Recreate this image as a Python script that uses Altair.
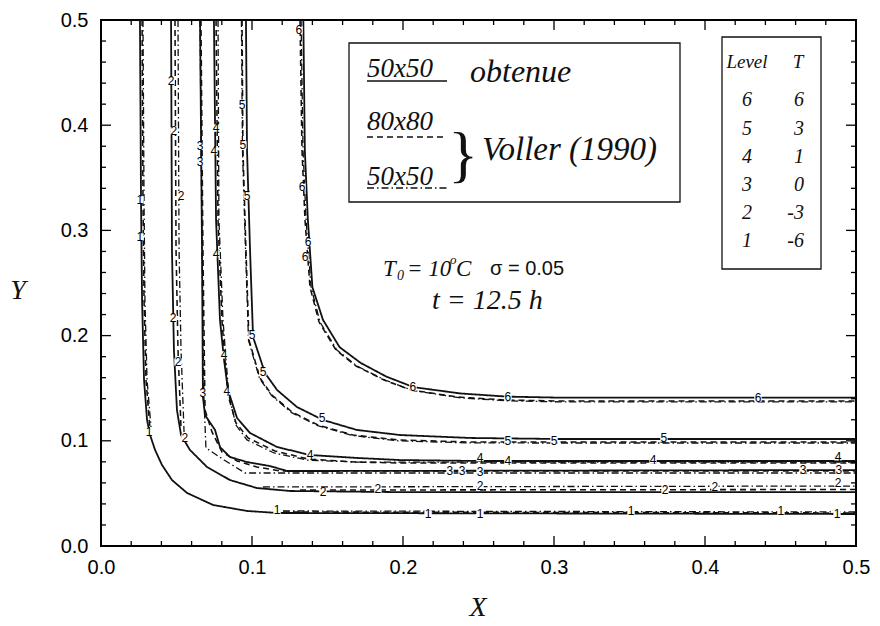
import altair as alt
import pandas as pd

# ---------------- contour data (X, Y) ----------------
# Level 6
x6_sol = [0.134, 0.135, 0.137, 0.140, 0.147, 0.158, 0.172, 0.189, 0.207, 0.238, 0.269, 0.304, 0.5]
y6_sol = [0.5, 0.376, 0.310, 0.246, 0.215, 0.189, 0.174, 0.161, 0.151, 0.145, 0.142, 0.141, 0.141]
x6_das = [0.1318, 0.1331, 0.1351, 0.1384, 0.1444, 0.1556, 0.1689, 0.1874, 0.2053, 0.2364, 0.2675, 0.304, 0.5]
y6_das = [0.5, 0.3764, 0.3099, 0.2462, 0.2129, 0.1863, 0.1711, 0.1578, 0.1483, 0.1416, 0.1388, 0.1378, 0.1378]
x6_dd = [0.1325, 0.1338, 0.1358, 0.1391, 0.1450, 0.1562, 0.1695, 0.1880, 0.2060, 0.2370, 0.2680, 0.304, 0.5]
y6_dd = [0.5, 0.3764, 0.3099, 0.2462, 0.2129, 0.1863, 0.1711, 0.1578, 0.1480, 0.1410, 0.1380, 0.1370, 0.1370]
# Level 5
x5_sol = [0.0960, 0.0967, 0.0987, 0.1007, 0.1086, 0.1166, 0.1298, 0.1470, 0.1695, 0.1980, 0.2444, 0.3040, 0.5]
y5_sol = [0.5, 0.3764, 0.2814, 0.1987, 0.1644, 0.1483, 0.1321, 0.1198, 0.1103, 0.1055, 0.1027, 0.1017, 0.1017]
x5_das = [0.0934, 0.0940, 0.0960, 0.0980, 0.1053, 0.1132, 0.1265, 0.1437, 0.1669, 0.1967, 0.2430, 0.3040, 0.5]
y5_das = [0.5, 0.3764, 0.2814, 0.1958, 0.1597, 0.1435, 0.1274, 0.1150, 0.1055, 0.1008, 0.0989, 0.0989, 0.0989]
x5_dd = [0.0930, 0.0937, 0.0957, 0.0977, 0.1050, 0.1130, 0.1262, 0.1435, 0.1667, 0.1965, 0.2430, 0.3040, 0.5]
y5_dd = [0.5, 0.3764, 0.2814, 0.1955, 0.1592, 0.1430, 0.1268, 0.1145, 0.1050, 0.1000, 0.0980, 0.0979, 0.0979]
# Level 4
x4_sol = [0.0748, 0.0762, 0.0788, 0.0815, 0.0841, 0.0901, 0.0987, 0.1166, 0.1384, 0.1695, 0.1980, 0.2510, 0.5]
y4_sol = [0.5, 0.3099, 0.2148, 0.1768, 0.1483, 0.1217, 0.1074, 0.0941, 0.0865, 0.0837, 0.0817, 0.0808, 0.0808]
x4_das = [0.0762, 0.0775, 0.0801, 0.0821, 0.0841, 0.0894, 0.0974, 0.1152, 0.1371, 0.1689, 0.1980, 0.2510, 0.5]
y4_das = [0.5, 0.3099, 0.2148, 0.1768, 0.1435, 0.1169, 0.1027, 0.0903, 0.0827, 0.0798, 0.0789, 0.0789, 0.0789]
x4_dd = [0.0775, 0.0781, 0.0808, 0.0828, 0.0848, 0.0894, 0.0967, 0.1146, 0.1364, 0.1689, 0.5]
y4_dd = [0.5, 0.3099, 0.2148, 0.1768, 0.1426, 0.1150, 0.1008, 0.0884, 0.0817, 0.0798, 0.0798]
# Level 3
x3_sol = [0.0656, 0.0669, 0.0675, 0.0689, 0.0755, 0.0788, 0.0854, 0.0967, 0.1119, 0.1232, 0.1517, 0.5]
y3_sol = [0.5, 0.2814, 0.1416, 0.1245, 0.1103, 0.0941, 0.0846, 0.0798, 0.0760, 0.0713, 0.0713, 0.0722]
x3_das = [0.0662, 0.0675, 0.0689, 0.0735, 0.0801, 0.0901, 0.1033, 0.1185, 0.5]
y3_das = [0.5, 0.2814, 0.1293, 0.1084, 0.0894, 0.0808, 0.0751, 0.0713, 0.0713]
x3_dd = [0.0656, 0.0669, 0.0682, 0.0695, 0.0815, 0.0954, 0.5]
y3_dd = [0.5, 0.2814, 0.1388, 0.0932, 0.0818, 0.0694, 0.0694]
# Level 2 (Voller curves drawn in two pieces)
x2_sol = [0.0464, 0.0470, 0.0483, 0.0503, 0.0530, 0.0589, 0.0702, 0.0854, 0.1033, 0.1252, 0.1914, 0.5]
y2_sol = [0.5, 0.2814, 0.1863, 0.1293, 0.1055, 0.0913, 0.0751, 0.0627, 0.0551, 0.0523, 0.0513, 0.0513]
x2_das_a = [0.0490, 0.0497, 0.0510, 0.0530]
y2_das_a = [0.5, 0.2814, 0.1863, 0.1122]
x2_das_b = [0.1318, 0.5]
y2_das_b = [0.0532, 0.0537]
x2_dd_a = [0.0510, 0.0517, 0.0530, 0.0550]
y2_dd_a = [0.5, 0.2814, 0.1863, 0.1084]
x2_dd_b = [0.1073, 0.5]
y2_dd_b = [0.0561, 0.0570]
# Level 1
x1_sol = [0.0258, 0.0265, 0.0272, 0.0285, 0.0305, 0.0325, 0.0358, 0.0404, 0.0470, 0.0570, 0.0742, 0.0967, 0.1166, 0.5]
y1_sol = [0.5, 0.3289, 0.2338, 0.1578, 0.1198, 0.1055, 0.0913, 0.0770, 0.0627, 0.0504, 0.0390, 0.0333, 0.0314, 0.0304]
x1_das_a = [0.0272, 0.0278, 0.0285, 0.0298, 0.0325]
y1_das_a = [0.5, 0.3289, 0.2338, 0.1578, 0.1103]
x1_das_b = [0.1205, 0.5]
y1_das_b = [0.0323, 0.0314]
x1_dd_a = [0.0278, 0.0285, 0.0291, 0.0305, 0.0331]
y1_dd_a = [0.5, 0.3289, 0.2338, 0.1578, 0.1131]
x1_dd_b = [0.1205, 0.5]
y1_dd_b = [0.0333, 0.0323]

# contour labels
lab_x = [0.1311, 0.1331, 0.1371, 0.1351, 0.2066, 0.2695, 0.4351,
         0.0934, 0.0940, 0.0967, 0.1000, 0.1073, 0.1464, 0.2695, 0.3000, 0.3728,
         0.0762, 0.0748, 0.0762, 0.0815, 0.0834, 0.1384, 0.2510, 0.2695, 0.3656, 0.4881,
         0.0656, 0.0656, 0.0675, 0.2311, 0.2391, 0.2510, 0.4649, 0.4887,
         0.0464, 0.0483, 0.0530, 0.0477, 0.0510, 0.0556, 0.1470, 0.1834, 0.2510, 0.3735, 0.4066, 0.4881,
         0.0258, 0.0258, 0.0318, 0.1166, 0.2166, 0.2510, 0.3510, 0.4503, 0.4874]
lab_y = [0.4905, 0.3413, 0.2890, 0.2747, 0.1511, 0.1416, 0.1407,
         0.4192, 0.3812, 0.3327, 0.2006, 0.1654, 0.1217, 0.0998, 0.0998, 0.1027,
         0.3973, 0.3755, 0.2776, 0.1816, 0.1473, 0.0865, 0.0840, 0.0808, 0.0817, 0.0848,
         0.3800, 0.3650, 0.1454, 0.0713, 0.0713, 0.0705, 0.0725, 0.0725,
         0.4420, 0.3945, 0.3327, 0.2167, 0.1749, 0.1027, 0.0513, 0.0542, 0.0570, 0.0532, 0.0561, 0.0598,
         0.3289, 0.2937, 0.1084, 0.0342, 0.0304, 0.0304, 0.0333, 0.0333, 0.0304]
lab_txt = ["6"] * 7 + ["5"] * 9 + ["4"] * 10 + ["3"] * 8 + ["2"] * 12 + ["1"] * 9

# axis ticks
major_ticks = [0.0, 0.1, 0.2, 0.3, 0.4, 0.5]
minor_ticks = [0.02, 0.04, 0.06, 0.08, 0.12, 0.14, 0.16, 0.18, 0.22, 0.24, 0.26, 0.28,
               0.32, 0.34, 0.36, 0.38, 0.42, 0.44, 0.46, 0.48]

# table
table_level = ["6", "5", "4", "3", "2", "1"]
table_T = ["6", "3", "1", "0", "-3", "-6"]

SOL, DAS, DD = "50x50 obtenue", "80x80 Voller", "50x50 Voller"
curves = [
    (6, SOL, 0, x6_sol, y6_sol), (6, DAS, 0, x6_das, y6_das), (6, DD, 0, x6_dd, y6_dd),
    (5, SOL, 0, x5_sol, y5_sol), (5, DAS, 0, x5_das, y5_das), (5, DD, 0, x5_dd, y5_dd),
    (4, SOL, 0, x4_sol, y4_sol), (4, DAS, 0, x4_das, y4_das), (4, DD, 0, x4_dd, y4_dd),
    (3, SOL, 0, x3_sol, y3_sol), (3, DAS, 0, x3_das, y3_das), (3, DD, 0, x3_dd, y3_dd),
    (2, SOL, 0, x2_sol, y2_sol), (2, DAS, 0, x2_das_a, y2_das_a), (2, DAS, 1, x2_das_b, y2_das_b),
    (2, DD, 0, x2_dd_a, y2_dd_a), (2, DD, 1, x2_dd_b, y2_dd_b),
    (1, SOL, 0, x1_sol, y1_sol), (1, DAS, 0, x1_das_a, y1_das_a), (1, DAS, 1, x1_das_b, y1_das_b),
    (1, DD, 0, x1_dd_a, y1_dd_a), (1, DD, 1, x1_dd_b, y1_dd_b),
]
rows = []
for lvl, kind, seg, xs, ys in curves:
    for i, (xv, yv) in enumerate(zip(xs, ys)):
        rows.append({"level": lvl, "kind": kind, "cid": f"{lvl}-{kind}-{seg}", "order": i, "x": xv, "y": yv})
df = pd.DataFrame(rows)

labels = pd.DataFrame({"x": lab_x, "y": lab_y, "t": lab_txt})

W, H = 755, 526
sx = alt.Scale(domain=[0, 0.5], nice=False, zero=False)
sy = alt.Scale(domain=[0, 0.5], nice=False, zero=False)
SERIF = "Liberation Serif"
SANS = "Liberation Sans"

axX = alt.Axis(values=major_ticks, format=".1f", ticks=False, domain=False, grid=False, labelFont=SANS,
               labelFontSize=20, labelColor="black", labelPadding=11, title=None, labelFlush=False)
axY = alt.Axis(values=major_ticks, format=".1f", ticks=False, domain=False, grid=False, labelFont=SANS,
               labelFontSize=20, labelColor="black", labelPadding=13, title=None, labelFlush=False)


def XE(f):
    return alt.X(f, scale=sx, axis=axX)


def YE(f):
    return alt.Y(f, scale=sy, axis=axY)


lines = alt.Chart(df).mark_line(color="#111", clip=True).encode(
    x=XE("x:Q"), y=YE("y:Q"),
    detail="cid:N",
    order="order:Q",
    strokeDash=alt.StrokeDash("kind:N", scale=alt.Scale(domain=[SOL, DAS, DD],
                              range=[[1, 0], [6, 4], [7, 3, 1.5, 3]]), legend=None),
    strokeWidth=alt.StrokeWidth("kind:N", scale=alt.Scale(domain=[SOL, DAS, DD], range=[1.8, 1.3, 1.2]),
                                legend=None),
)

lab_bg = alt.Chart(labels).mark_square(size=55, color="white", opacity=1, clip=True).encode(
    x=XE("x:Q"), y=YE("y:Q"))
lab_tx = alt.Chart(labels).mark_text(font=SANS, fontSize=12, color="black", baseline="middle").encode(
    x=XE("x:Q"), y=YE("y:Q"), text="t:N")

# ticks (inside)
maj = pd.DataFrame({"v": major_ticks})
mnr = pd.DataFrame({"v": minor_ticks})
tick_layers = []
for d, L in ((maj, 10), (mnr, 5)):
    tick_layers.append(alt.Chart(d).mark_rule(color="black", strokeWidth=1.3).encode(
        x=XE("v:Q"), y=alt.value(H), y2=alt.value(H - L)))
    tick_layers.append(alt.Chart(d).mark_rule(color="black", strokeWidth=1.3).encode(
        x=XE("v:Q"), y=alt.value(0), y2=alt.value(L)))
    tick_layers.append(alt.Chart(d).mark_rule(color="black", strokeWidth=1.3).encode(
        y=YE("v:Q"), x=alt.value(0), x2=alt.value(L)))
    tick_layers.append(alt.Chart(d).mark_rule(color="black", strokeWidth=1.3).encode(
        y=YE("v:Q"), x=alt.value(W), x2=alt.value(W - L)))

one = pd.DataFrame({"a": [0]})
base = alt.Chart(one)


def txt(s, x, y, size, font=SERIF, style="italic", align="left", baseline="alphabetic"):
    return base.mark_text(text=s, font=font, fontSize=size, fontStyle=style, align=align,
                          baseline=baseline, color="#111").encode(x=alt.value(x), y=alt.value(y))


def hline(x1, x2, y, dash, w=1.3):
    return base.mark_rule(color="#111", strokeWidth=w, strokeDash=dash).encode(
        x=alt.value(x1), x2=alt.value(x2), y=alt.value(y))


legend_box = base.mark_rect(fill="white", stroke="#111", strokeWidth=1.3).encode(
    x=alt.value(248), x2=alt.value(579), y=alt.value(23), y2=alt.value(182))
legend_items = [
    txt("50x50", 266, 57, 27), hline(266, 346, 61, [1, 0], 1.5),
    txt("obtenue", 369, 62, 32),
    txt("80x80", 266, 110, 27), hline(266, 346, 117, [6, 4]),
    txt("50x50", 266, 165, 27), hline(266, 346, 168, [7, 3, 1.5, 3]),
    txt("}", 362, 136, 62, style="normal", align="center", baseline="middle"),
    txt("Voller (1990)", 381, 140, 33),
]

table_box = base.mark_rect(fill="white", stroke="#111", strokeWidth=1.3).encode(
    x=alt.value(621), x2=alt.value(720), y=alt.value(17), y2=alt.value(249))
table_items = [txt("Level", 646, 42, 19, align="center", baseline="middle"),
               txt("T", 697, 42, 19, align="center", baseline="middle")]
row_y = [80, 109, 137, 165, 193, 221]
for lv, tv, ry in zip(table_level, table_T, row_y):
    table_items.append(txt(lv, 646, ry, 20, align="center", baseline="middle"))
    table_items.append(txt(tv, 703, ry, 20, align="right", baseline="middle"))

annot = [
    txt("T", 282, 249, 23, baseline="middle"),
    txt("0", 296, 256, 14, baseline="middle"),
    txt("= 10", 306, 249, 23, baseline="middle"),
    txt("o", 349, 240, 13, baseline="middle"),
    txt("C", 355, 249, 23, baseline="middle"),
    txt("σ = 0.05", 389, 249, 20, font=SANS, style="normal", baseline="middle"),
    txt("t = 12.5 h", 331, 281, 28, baseline="middle"),
    txt("Y", -83, 271, 28, align="center", baseline="middle"),
    txt("X", 377, 588, 28, align="center", baseline="middle"),
]

chart = alt.layer(
    lines, lab_bg, lab_tx, *tick_layers, legend_box, *legend_items, table_box, *table_items, *annot
).properties(
    width=W, height=H,
    autosize=alt.AutoSizeParams(type="none"),
    padding={"left": 101, "top": 20, "right": 24, "bottom": 80},
    background="white",
).configure_view(stroke="black", strokeWidth=2)

chart.save("out.html", embed_options={"renderer": "svg", "actions": False})
